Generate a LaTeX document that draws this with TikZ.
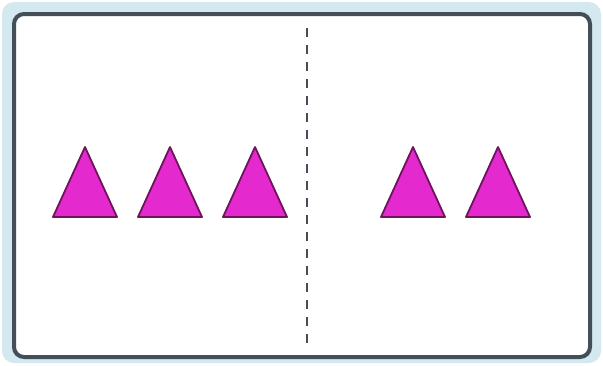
\documentclass[tikz,border=0pt]{standalone}
\usepackage{tikz}
\definecolor{frameblue}{RGB}{212,232,240}
\definecolor{framedark}{RGB}{68,78,88}
\definecolor{trifill}{RGB}{228,42,206}
\definecolor{triedge}{RGB}{110,20,92}
\tikzset{
  tri/.style={fill=trifill,draw=triedge,line width=1.8pt,line join=round},
  divider/.style={framedark,line width=2.8pt,dash pattern=on 9pt off 8pt}
}
\begin{document}
\begin{tikzpicture}[x=1pt,y=-1pt]
  \useasboundingbox (0,0) rectangle (603,365);
  \fill[white] (0,0) rectangle (603,365);
  % frame
  \fill[frameblue,rounded corners=12pt] (2,2) rectangle (601,363);
  \draw[framedark,line width=4pt,fill=white,rounded corners=10pt] (14,14) rectangle (590,357);
  % divider
  \coordinate (top) at (307,28);
  \coordinate (bottom) at (307,346);
  \draw[divider] (top) -- (bottom);
  % triangles
  \foreach \x in {85,170,255,413,498}
    \draw[tri] (\x-32,217) -- (\x,147) -- (\x+32,217) -- cycle;
\end{tikzpicture}
\end{document}
